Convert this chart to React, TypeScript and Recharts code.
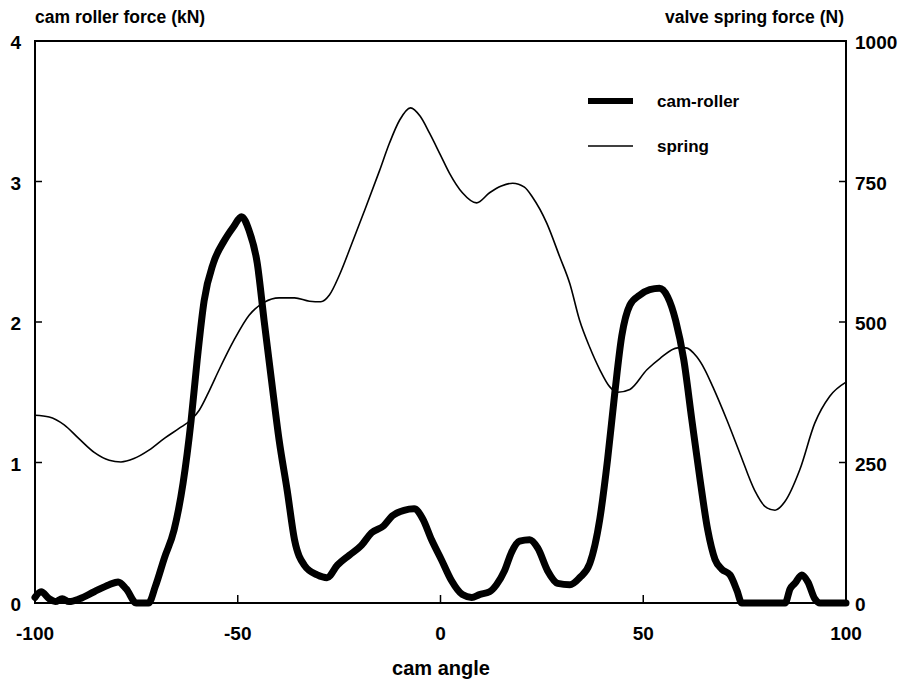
import React from 'react';
import { LineChart, Line, XAxis, YAxis, ReferenceArea, Customized } from 'recharts';

// cam angle (deg) vs cam-roller contact force (kN)
const rollerAngle = [
  -100, -98.5, -96.5, -95, -93.3, -91.6, -89, -85.4, -81.7, -79.5, -77.5, -75, -72, -70.3, -68.1, -65.7,
  -63.5, -61.5, -60, -58.3, -56, -53.3, -51, -49.1, -47.2, -45.2, -43.5, -41.7, -39.8, -37.8, -36,
  -33.6, -30.4, -28, -25.4, -22.5, -19.5, -17, -14, -11.9, -9, -6.5, -4.4, -2.2, 0.2, 2.7, 5.4, 7.7,
  9.6, 12.1, 13.8, 15.8, 17.5, 19.5, 22, 24, 26.4, 28.9, 31.9, 34.3, 36.8, 39.3, 41.2, 43, 44.7, 46.7,
  49.1, 51.6, 54, 56, 58, 60, 62, 64, 65.9, 67.7, 69.4, 71.4, 73.1, 74.3, 85, 86.2, 87.4, 89.1, 90.6,
  92.3, 93.6, 100,
];
const rollerForce = [
  0.04, 0.08, 0.03, 0.01, 0.03, 0.01, 0.03, 0.08, 0.13, 0.15, 0.1, 0, 0, 0.12, 0.32, 0.52,
  0.85, 1.3, 1.73, 2.15, 2.42, 2.58, 2.68, 2.75, 2.65, 2.42, 2.01, 1.59, 1.16, 0.8, 0.45,
  0.27, 0.2, 0.18, 0.27, 0.34, 0.41, 0.5, 0.55, 0.62, 0.66, 0.67, 0.6, 0.45, 0.31, 0.16, 0.06, 0.04,
  0.06, 0.08, 0.13, 0.23, 0.36, 0.44, 0.45, 0.39, 0.23, 0.14, 0.13, 0.18, 0.28, 0.6, 1.02, 1.5, 1.9, 2.12,
  2.19, 2.23, 2.24, 2.18, 2.01, 1.73, 1.3, 0.88, 0.52, 0.31, 0.24, 0.2, 0.09, 0, 0, 0.1, 0.14, 0.2, 0.15,
  0.03, 0, 0,
];

// cam angle (deg) vs valve spring force (N)
const springAngle = [
  -100, -96.5, -92.8, -89.1, -85.4, -81.7, -78.8, -75.6, -71.9, -68.1, -64.4, -61.5, -59.5, -57, -54.6,
  -50.9, -47.2, -43.5, -39.8, -36, -32.3, -29.5, -27.4, -24.9, -22, -18.8, -15.1, -12.6, -10.1, -7.4, -5,
  -2.7, 0, 2.2, 5.4, 8.9, 12.1, 15, 17.8, 20.7, 22.7, 26.2, 29.4, 31.9, 34.3, 36.8, 39.3, 41.7, 43.7,
  46.7, 50.9, 54.1, 58.5, 60.5, 63.2, 65.2, 67.2, 70.6, 73.8, 77.5, 80, 82.5, 84.9, 88.6, 92.3, 96, 100,
];
const springForce = [
  334, 331, 317, 292, 268, 254, 251, 257, 272, 293, 311, 326, 343, 378, 415,
  468, 512, 535, 543, 543, 537, 536, 548, 584, 637, 697, 768, 818, 859, 881, 866,
  836, 797, 765, 730, 712, 730, 742, 747, 740, 722, 676, 616, 568, 503, 455, 415, 385, 375,
  380, 415, 435, 454, 454, 438, 415, 384, 326, 267, 200, 172, 165, 180, 237, 320, 368, 393,
];

const angleTicks = [-100, -50, 0, 50, 100];
const rollerTicks = [0, 1, 2, 3, 4];
const springTicks = [0, 250, 500, 750, 1000];

const rollerData = rollerAngle.map((a, i) => ({ angle: a, roller: rollerForce[i] }));
const springData = springAngle.map((a, i) => ({ angle: a, spring: springForce[i] }));

const FONT = '"Liberation Sans", Arial, Helvetica, sans-serif';
const textStyle = { fontFamily: FONT, fontWeight: 700, fontSize: 17.5, fill: '#000' };
const tickStyle = { ...textStyle, fontSize: 19 };

const LeftTick = (props: any) => {
  const { x, y, payload } = props;
  const v = payload.value;
  return (
    <g>
      {v !== 0 && v !== 4 && <line x1={x} x2={x + 7} y1={y} y2={y} stroke="#000" strokeWidth={1.5} />}
      <text x={x - 14} y={y + 8} textAnchor="end" style={tickStyle}>{v}</text>
    </g>
  );
};

const RightTick = (props: any) => {
  const { x, y, payload } = props;
  const v = payload.value;
  return (
    <g>
      {v !== 0 && v !== 1000 && <line x1={x} x2={x - 7} y1={y} y2={y} stroke="#000" strokeWidth={1.5} />}
      <text x={x + 9} y={y + 8} textAnchor="start" style={tickStyle}>{v}</text>
    </g>
  );
};

const BottomTick = (props: any) => {
  const { x, y, payload } = props;
  const v = payload.value;
  return (
    <g>
      {v !== -100 && v !== 100 && <line x1={x} x2={x} y1={y} y2={y - 8} stroke="#000" strokeWidth={1.5} />}
      <text x={x} y={y + 37} textAnchor="middle" style={tickStyle}>{v}</text>
    </g>
  );
};

const Annotations = () => (
  <g>
    <text x={35} y={23} textAnchor="start" style={textStyle}>cam roller force (kN)</text>
    <text x={844} y={23} textAnchor="end" style={textStyle}>valve spring force (N)</text>
    <text x={441} y={675} textAnchor="middle" style={{ ...textStyle, fontSize: 20 }}>cam angle</text>
    {/* legend */}
    <line x1={588} x2={633} y1={101} y2={101} stroke="#000" strokeWidth={6} />
    <text x={657} y={107} style={{ ...textStyle, fontSize: 17 }}>cam-roller</text>
    <line x1={588} x2={633} y1={146} y2={146} stroke="#000" strokeWidth={1.5} />
    <text x={657} y={152} style={{ ...textStyle, fontSize: 17 }}>spring</text>
  </g>
);

export default function App() {
  return (
    <div style={{ position: 'absolute', left: 0, top: 0, width: 912, height: 682, background: '#fff' }}>
      <LineChart width={912} height={682} margin={{ top: 41, left: 5, right: 16, bottom: 19 }}>
        <XAxis
          dataKey="angle"
          type="number"
          domain={[-100, 100]}
          ticks={angleTicks}
          interval={0}
          allowDuplicatedCategory={false}
          height={60}
          tickSize={0}
          tickMargin={0}
          tick={<BottomTick />}
          axisLine={{ stroke: '#000', strokeWidth: 2 }}
          tickLine={false}
        />
        <YAxis
          yAxisId="left"
          type="number"
          domain={[0, 4]}
          ticks={rollerTicks}
          interval={0}
          width={30}
          tickSize={0}
          tickMargin={0}
          tick={<LeftTick />}
          axisLine={{ stroke: '#000', strokeWidth: 2 }}
          tickLine={false}
        />
        <YAxis
          yAxisId="right"
          orientation="right"
          type="number"
          domain={[0, 1000]}
          ticks={springTicks}
          interval={0}
          width={50}
          tickSize={0}
          tickMargin={0}
          tick={<RightTick />}
          axisLine={{ stroke: '#000', strokeWidth: 2 }}
          tickLine={false}
        />
        <ReferenceArea
          yAxisId="left"
          x1={-100}
          x2={100}
          y1={0}
          y2={4}
          fill="none"
          fillOpacity={0}
          stroke="#000"
          strokeWidth={2}
        />
        <Line
          yAxisId="right"
          data={springData}
          dataKey="spring"
          type="monotone"
          stroke="#000"
          strokeWidth={1.6}
          dot={false}
          isAnimationActive={false}
        />
        <Line
          yAxisId="left"
          data={rollerData}
          dataKey="roller"
          type="monotone"
          stroke="#000"
          strokeWidth={7}
          strokeLinejoin="round"
          strokeLinecap="round"
          dot={false}
          isAnimationActive={false}
        />
        <Customized component={Annotations} />
      </LineChart>
    </div>
  );
}
